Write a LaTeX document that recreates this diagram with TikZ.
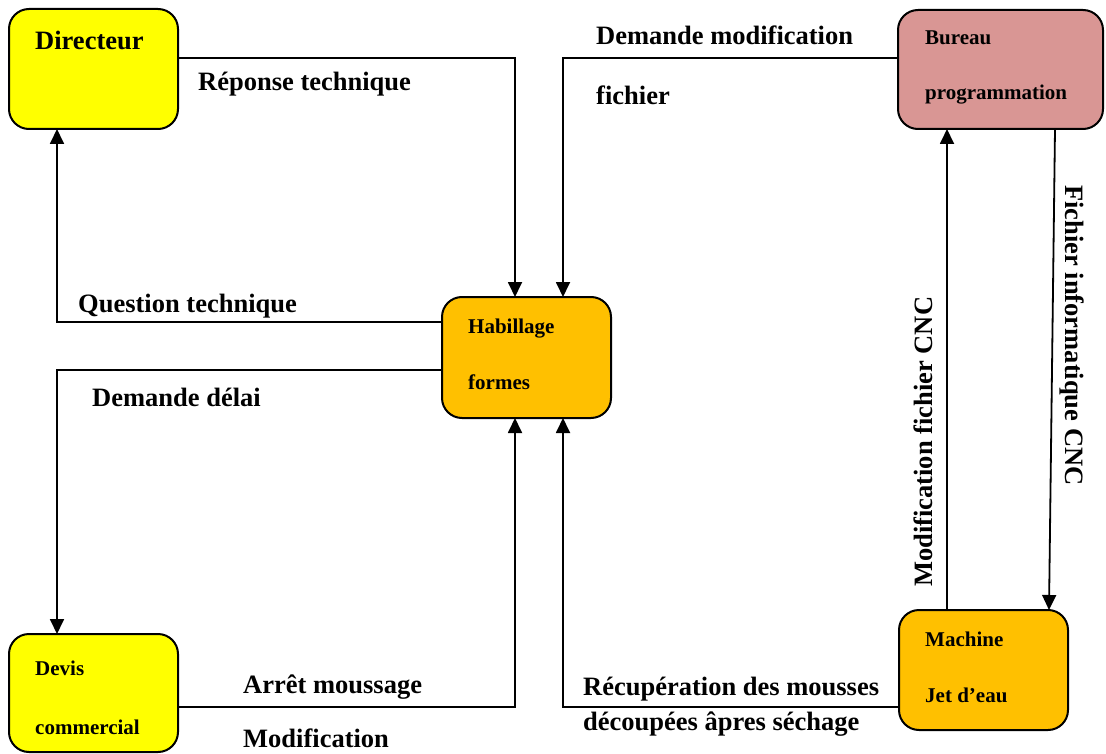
\documentclass[tikz,border=0pt]{standalone}
\usepackage{fontspec}
\setmainfont{Liberation Serif}
\usetikzlibrary{arrows.meta,calc}
\definecolor{yel}{HTML}{FFFF00}
\definecolor{org}{HTML}{FFC000}
\definecolor{pnk}{HTML}{D99694}
\begin{document}
\begin{tikzpicture}[x=1pt,y=-1pt,
  box/.style={draw, line width=2pt, rounded corners=20pt, inner sep=0pt, outer sep=0pt, anchor=north west},
  conn/.style={line width=1.8pt, -{Triangle[length=15pt,width=14pt]}},
  big/.style={inner sep=0pt, anchor=base west, font=\fontsize{26.5}{30}\selectfont\bfseries},
  small/.style={inner sep=0pt, anchor=base west, font=\fontsize{21}{25}\selectfont\bfseries}]
\useasboundingbox (0,0) rectangle (1106,754);
% boxes
\node[box, fill=yel, minimum width=169pt, minimum height=120pt] (dir) at (9,9) {};
\node[box, fill=pnk, minimum width=205pt, minimum height=119pt] (bur) at (898,10) {};
\node[box, fill=org, minimum width=169pt, minimum height=121pt] (hab) at (442,297) {};
\node[box, fill=org, minimum width=169pt, minimum height=120pt] (mach) at (899,610) {};
\node[box, fill=yel, minimum width=169pt, minimum height=118pt] (dev) at (9,634) {};
% connectors
\draw[conn] ($(dir.north east)+(0,49)$) -| ($(hab.north west)+(73,0)$);
\draw[conn] ($(hab.north west)+(0,25)$) -| ($(dir.south west)+(48,0)$);
\draw[conn] ($(hab.north west)+(0,73)$) -| ($(dev.north west)+(48,0)$);
\draw[conn] ($(dev.north east)+(0,73)$) -| ($(hab.south west)+(73,0)$);
\draw[conn] ($(bur.north west)+(0,48)$) -| ($(hab.north west)+(121,0)$);
\draw[conn] ($(mach.north west)+(0,97)$) -| ($(hab.south west)+(121,0)$);
\draw[conn] ($(bur.south west)+(157,0)$) -- ($(mach.north west)+(150,0)$);
\draw[conn] ($(mach.north west)+(48,0)$) -- ($(bur.south west)+(49,0)$);
% texts
\node[big] (tdir) at (35,50) {Directeur};
\node[big] (trep) at (198,91) {Réponse technique};
\node[small] (tbur1) at (925,45) {Bureau};
\node[small] (tbur2) at (925,100) {programmation};
\node[big] (tdem1) at (596,45) {Demande modification};
\node[big] (tdem2) at (596,105) {fichier};
\node[big] (tques) at (78,312) {Question technique};
\node[big] (tdel) at (92,406) {Demande délai};
\node[small] (thab1) at (468,333) {Habillage};
\node[small] (thab2) at (468,389) {formes};
\node[small] (tdev1) at (35,675) {Devis};
\node[small] (tdev2) at (35,734) {commercial};
\node[big] (tarr) at (243,693) {Arrêt moussage};
\node[big] (tmod) at (243,747) {Modification};
\node[big] (trec1) at (583,695) {Récupération des mousses};
\node[big] (trec2) at (583,730) {découpées âpres séchage};
\node[small] (tmac1) at (925,646) {Machine};
\node[small] (tmac2) at (925,702) {Jet d’eau};
\node[big, rotate=90] (tmodcnc) at (932,587) {Modification fichier CNC};
\node[big, rotate=-90] (tfich) at (1065,185) {Fichier informatique CNC};
\end{tikzpicture}
\end{document}
